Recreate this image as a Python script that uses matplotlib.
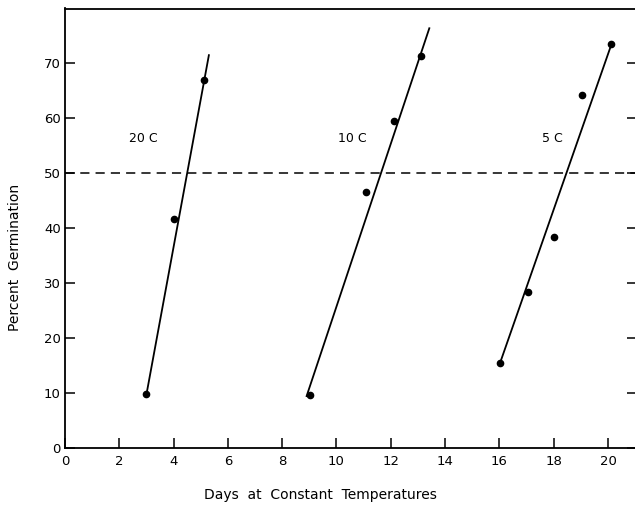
import matplotlib
matplotlib.use('Agg')
from matplotlib import pyplot as plt

# germination points
days_20c = [3.0, 4.03, 5.12]
germ_20c = [9.8, 41.7, 67.0]
days_10c = [9.02, 11.07, 12.12, 13.1]
germ_10c = [9.6, 46.6, 59.5, 71.4]
days_5c = [16.03, 17.04, 18.0, 19.04, 20.13]
germ_5c = [15.5, 28.4, 38.3, 64.2, 73.5]

# hand-drawn fitted lines (end points)
fit_20c_x = [3.0, 5.3]
fit_20c_y = [9.7, 71.5]
fit_10c_x = [8.9, 13.42]
fit_10c_y = [9.4, 76.4]
fit_5c_x = [16.03, 20.13]
fit_5c_y = [15.5, 73.5]

temp_labels = ['20 C', '10 C', '5 C']
label_x = [2.87, 10.6, 17.97]
label_y = 56.3

x_ticks = list(range(0, 21, 2))
y_ticks = list(range(0, 71, 10))

plt.rcParams['font.family'] = ['DejaVu Sans']

fig = plt.figure(figsize=(6.35, 5.05), dpi=100)
# right edge of the axes sits just past the picture, as in the scan
ax = fig.add_axes([65/635, 57.3/505, 572/635, 439.2/505])

for fx, fy in [(fit_20c_x, fit_20c_y), (fit_10c_x, fit_10c_y), (fit_5c_x, fit_5c_y)]:
    ax.plot(fx, fy, color='black', lw=1.3)

for dx, gy in [(days_20c, germ_20c), (days_10c, germ_10c), (days_5c, germ_5c)]:
    ax.plot(dx, gy, 'o', color='black', ms=4.5, ls='none')

ax.axhline(50, color='black', lw=1.1, ls=(0, (6, 4)))

for lbl, lx in zip(temp_labels, label_x):
    ax.text(lx, label_y, lbl, fontsize=9, ha='center', va='center')

ax.set_xlim(0, 21.07)
ax.set_ylim(0, 80)
ax.set_xticks(x_ticks)
ax.set_yticks(y_ticks)
ax.tick_params(axis='both', direction='in', length=7, width=1.1, labelsize=9.5,
               right=True, colors='black')
ax.tick_params(axis='x', pad=5)
ax.tick_params(axis='y', pad=3)
for s in ax.spines.values():
    s.set_linewidth(1.3)

fig.text(0.024, 0.49, 'Percent  Germination', rotation=90, ha='center', va='center', fontsize=10)
fig.text(0.505, 0.02, 'Days  at  Constant  Temperatures', ha='center', va='center', fontsize=10)

plt.savefig('out.png', dpi=100)
